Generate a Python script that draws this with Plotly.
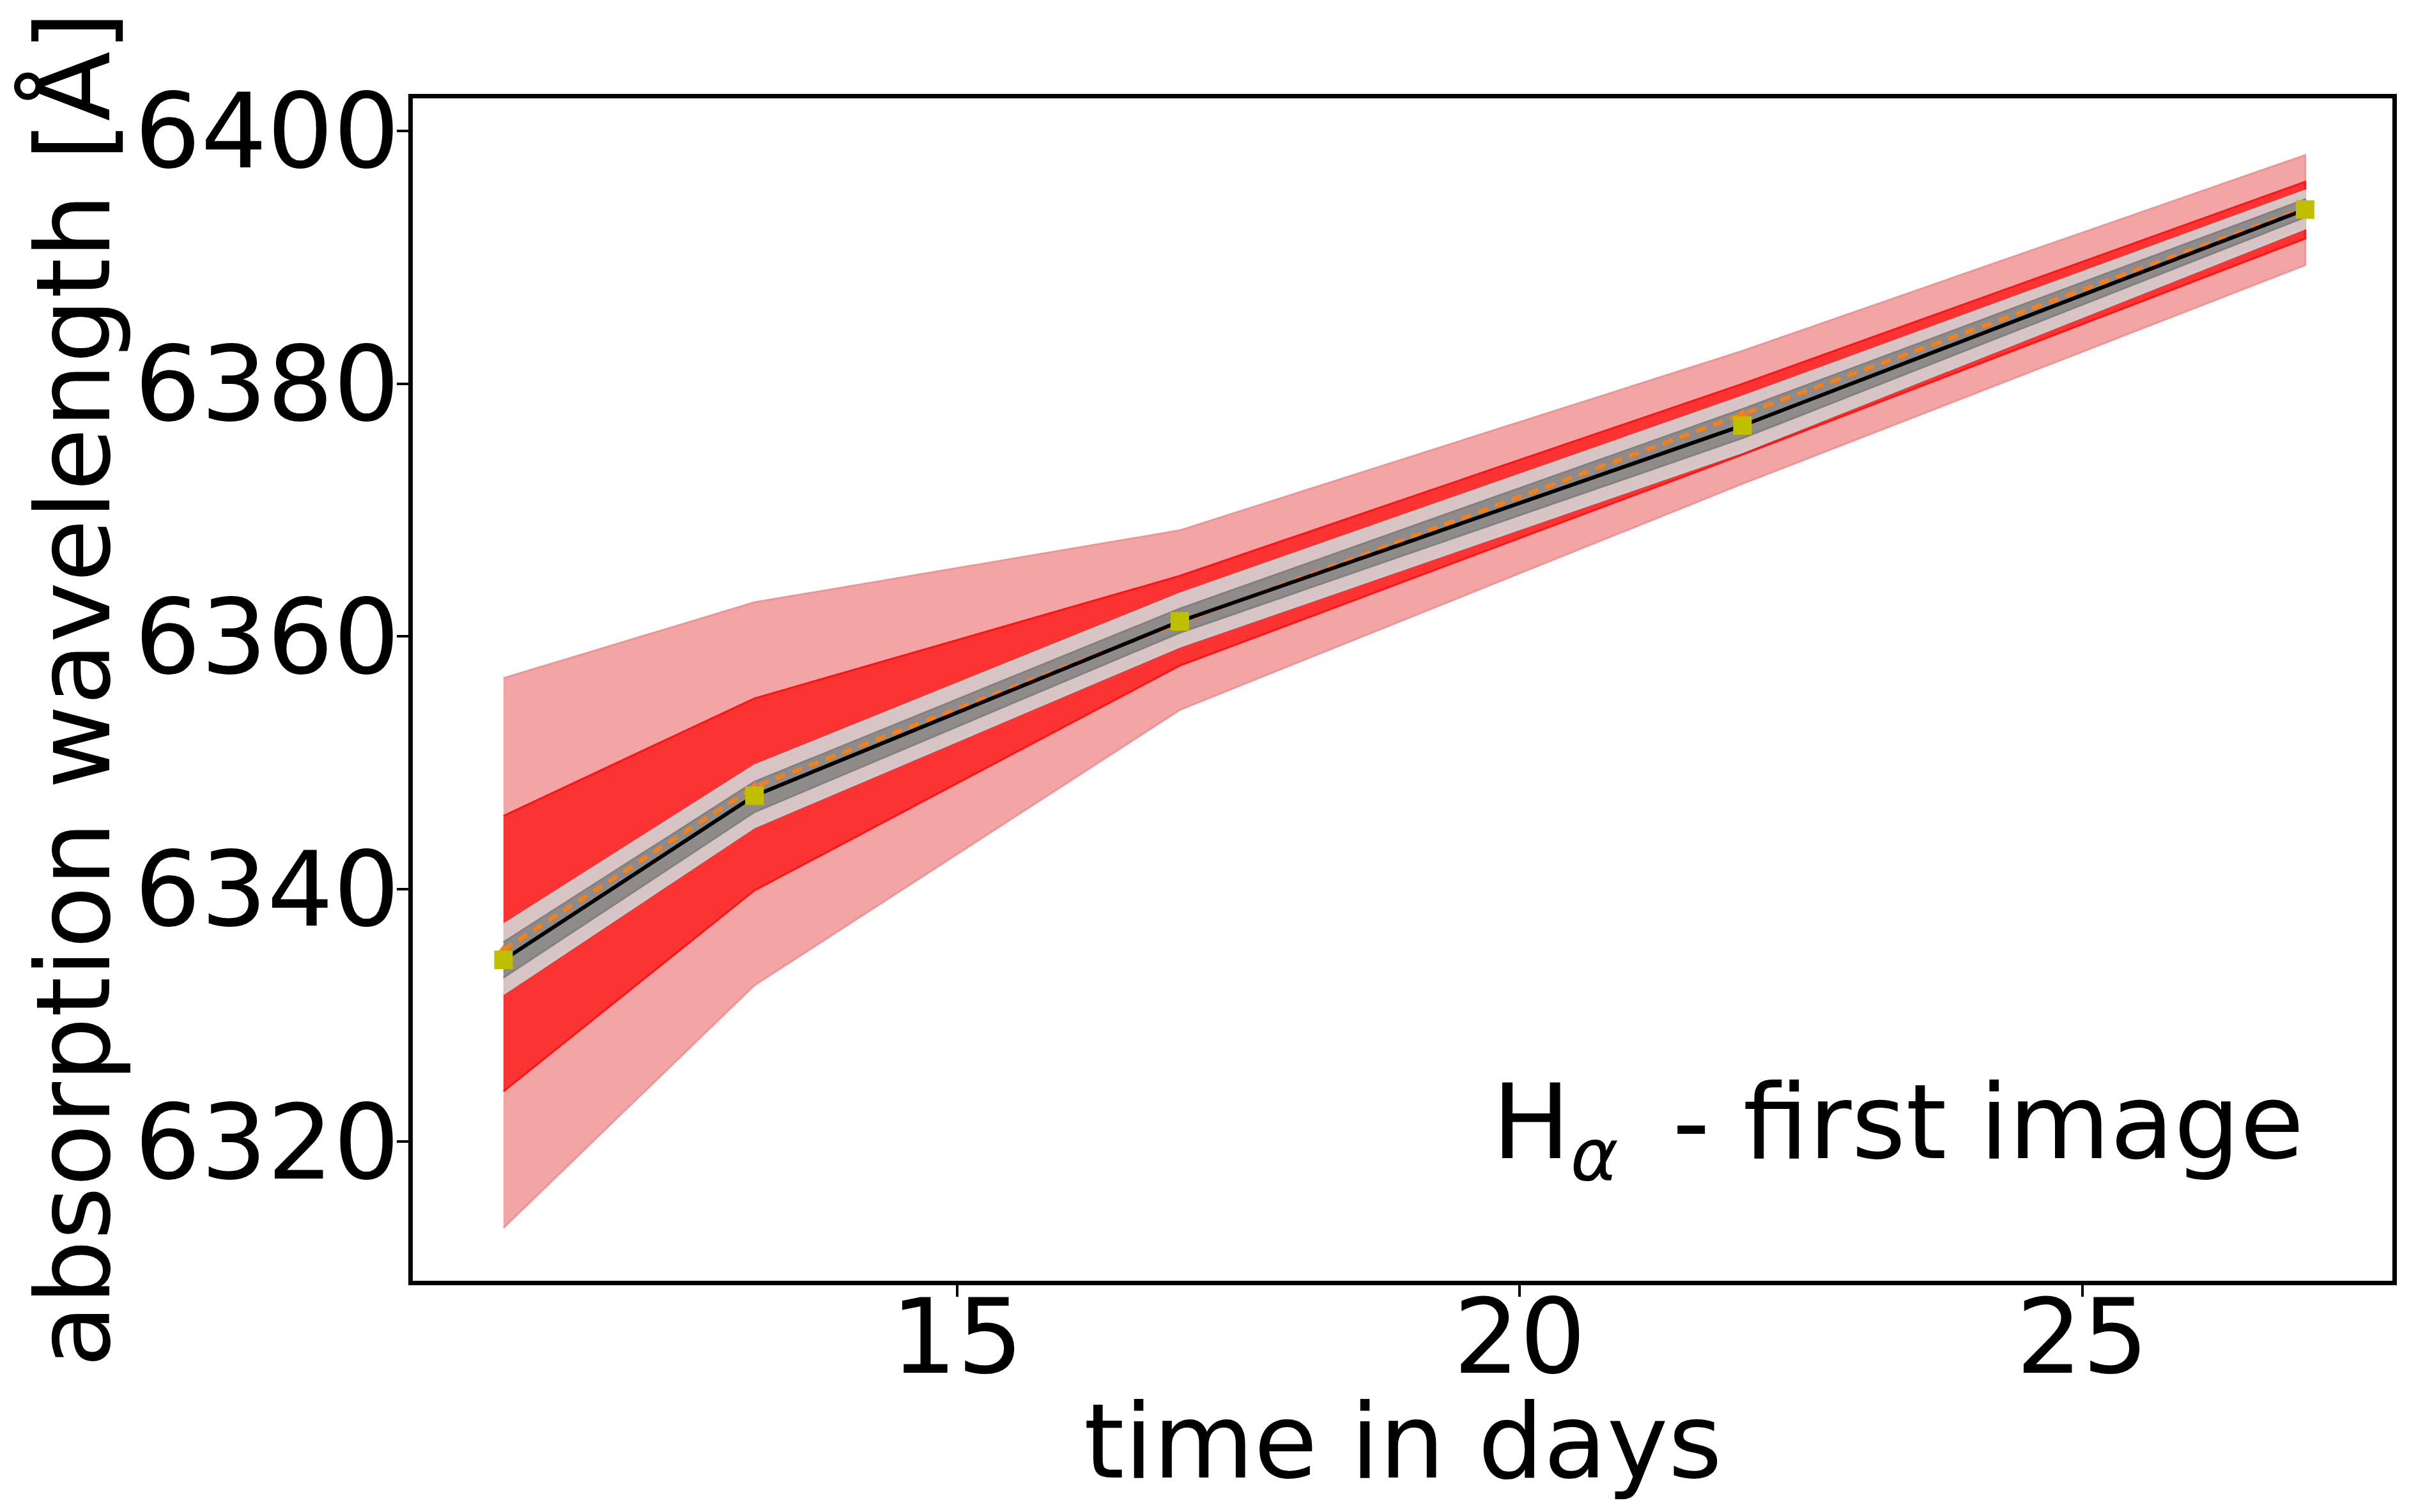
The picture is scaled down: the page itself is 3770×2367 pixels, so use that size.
import plotly.graph_objects as go

# epochs (days) and line positions (Angstrom)
time_days = [10.97, 13.20, 16.98, 21.98, 26.98]
outer_hi = [6356.7, 6362.7, 6368.4, 6382.6, 6398.1]
outer_lo = [6313.2, 6332.4, 6354.2, 6372.1, 6389.4]
red_hi = [6345.8, 6355.1, 6364.8, 6380.0, 6396.0]
red_lo = [6324.0, 6339.9, 6357.7, 6374.4, 6391.5]
rosy_hi = [6337.2, 6349.8, 6363.4, 6379.0, 6395.3]
rosy_lo = [6331.7, 6344.9, 6359.2, 6374.6, 6392.3]
gray_hi = [6335.8, 6348.5, 6362.2, 6378.0, 6394.6]
gray_lo = [6333.0, 6346.1, 6360.3, 6375.7, 6393.2]
model_line = [6334.4, 6347.4, 6361.2, 6376.7, 6393.8]
alt_line = [6335.2, 6348.1, 6361.1, 6377.6, 6393.9]
measured = [6334.4, 6347.4, 6361.2, 6376.7, 6393.8]

x_ticks = [15, 20, 25]
y_ticks = [6320, 6340, 6360, 6380, 6400]

FONT = 'DejaVu Sans'

fig = go.Figure()


def add_band(lo, hi, fill, edge, width):
    fig.add_trace(go.Scatter(x=time_days + time_days[::-1], y=hi + lo[::-1],
                             mode='lines', fill='toself', fillcolor=fill,
                             line=dict(color=edge, width=width), hoverinfo='skip',
                             showlegend=False))


add_band(outer_lo, outer_hi, 'rgb(243,165,166)', 'rgb(238,148,148)', 3)
add_band(red_lo, red_hi, 'rgb(252,51,51)', 'rgb(255,20,20)', 3)
add_band(rosy_lo, rosy_hi, 'rgb(216,196,196)', 'rgb(205,205,205)', 3)
add_band(gray_lo, gray_hi, 'rgb(143,139,139)', 'rgb(130,128,128)', 3)

fig.add_trace(go.Scatter(x=time_days, y=alt_line, mode='lines+markers',
                         line=dict(color='#ff7f0e', width=6, dash='16px,12px'),
                         marker=dict(symbol='triangle-up', size=16, color='#ff7f0e'),
                         showlegend=False))
fig.add_trace(go.Scatter(x=time_days, y=model_line, mode='lines',
                         line=dict(color='black', width=6), showlegend=False))
fig.add_trace(go.Scatter(x=time_days, y=measured, mode='markers',
                         marker=dict(symbol='square', size=29, color='#bfbf00'),
                         showlegend=False))

axis_common = dict(showline=True, linewidth=7, linecolor='black', mirror=True,
                   ticks='outside', ticklen=18, tickwidth=4, tickcolor='black',
                   showgrid=False, zeroline=False,
                   tickfont=dict(family=FONT, size=163, color='black'))

# page body has an 8px margin, so the figure is 16px smaller than the window
fig.update_layout(
    width=3754, height=2351,
    margin=dict(l=638, r=18, t=146, b=354),
    plot_bgcolor='white', paper_bgcolor='white',
    xaxis=dict(range=[10.164, 27.756], tickvals=x_ticks, ticklabelstandoff=-77, **axis_common),
    yaxis=dict(range=[6309.0, 6402.6], tickvals=y_ticks, ticklabelstandoff=-37, **axis_common),
)

fig.add_annotation(text='time in days', xref='paper', yref='paper',
                   x=0.5, y=-0.136, xanchor='center', yanchor='middle', showarrow=False,
                   font=dict(family=FONT, size=162, color='black'))
fig.add_annotation(text='absorption wavelength [Å]', xref='paper', yref='paper',
                   x=-0.1714, y=0.5, xanchor='center', yanchor='middle', textangle=-90,
                   showarrow=False, font=dict(family=FONT, size=160, color='black'))
fig.add_annotation(text='H<sub><i>α</i></sub>\u2009 - first image', xref='paper', yref='paper',
                   x=0.956, y=0.128, xanchor='right', yanchor='middle', showarrow=False,
                   font=dict(family=FONT, size=163, color='black'))

fig.write_html('out.html')
